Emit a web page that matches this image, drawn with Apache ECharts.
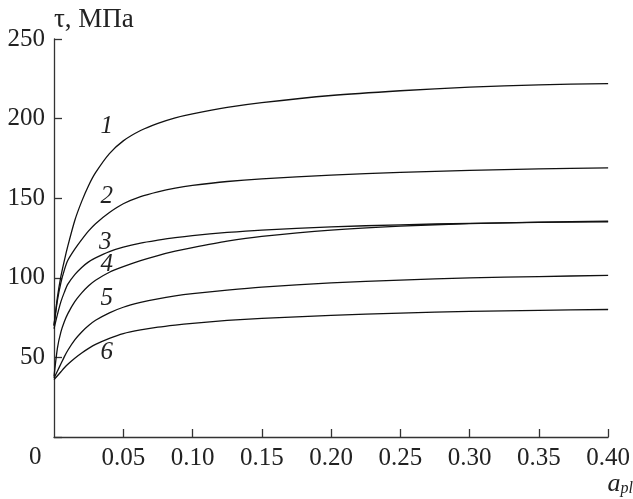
<!DOCTYPE html>
<html>
	<head>
		<meta charset="utf-8">
		<title>tau vs a_pl</title>
		<script src="https://cdn.jsdelivr.net/npm/echarts@6/dist/echarts.min.js"></script>
	</head>
	<body style="margin: 0px;">
		<div id="main" style="width: 633px;height:499px;"></div>
		<script type="text/javascript">
			// x values (a_pl)
			var xs = [0, 0.0025, 0.005, 0.0075, 0.01, 0.015, 0.02, 0.025, 0.03, 0.04, 0.05, 0.0625, 0.075, 0.0875, 0.10, 0.125, 0.15, 0.20, 0.25, 0.30, 0.35, 0.40];
			// tau, MPa for curves 1..6
			var curve1 = [70, 88, 101, 111, 120, 136, 148, 158, 166, 178, 186, 192.5, 197, 200.5, 203, 207, 210, 214.5, 217.5, 219.8, 221.2, 222];
			var curve2 = [70, 86, 97, 105, 111, 118, 124, 129.5, 134, 141, 146.5, 151, 154, 156.3, 158, 160.5, 162.2, 164.5, 166.2, 167.5, 168.4, 169];
			var curve3 = [68, 77, 85, 91, 96, 102, 106.5, 110, 112.5, 116.5, 119.3, 121.8, 123.6, 125.2, 126.5, 128.5, 130, 132, 133.3, 134.2, 134.8, 135.2];
			var curve4 = [38, 56, 66, 72.5, 77.5, 85, 90.5, 95, 98.5, 103.5, 107, 110.8, 114, 116.7, 119, 123, 126, 130, 132.5, 134, 135, 135.6];
			var curve5 = [37, 41.5, 46, 50.5, 54.5, 61, 66, 70, 73.3, 78, 81.5, 84.5, 86.8, 88.6, 90, 92.3, 94.2, 96.8, 98.6, 99.9, 100.8, 101.5];
			var curve6 = [36, 38.5, 41, 43.5, 45.7, 49.5, 52.8, 55.7, 58.2, 62, 65, 67.3, 69, 70.3, 71.4, 73.2, 74.5, 76.4, 77.8, 78.9, 79.6, 80.1];
			var curveNames = ['1', '2', '3', '4', '5', '6'];
			// where the curve numbers sit, in data units
			var labelPos = [[0.038, 195], [0.038, 151], [0.037, 122.5], [0.038, 108.7], [0.038, 87], [0.038, 53]];

			var font = '"Liberation Serif", "Times New Roman", serif';
			var ink = '#222';
			var allCurves = [curve1, curve2, curve3, curve4, curve5, curve6];

			var series = allCurves.map(function(c, i) {
				return {
					name: curveNames[i],
					type: 'line',
					smooth: 0.25,
					showSymbol: false,
					silent: true,
					lineStyle: { color: '#111', width: 1.3 },
					data: xs.map(function(x, j) { return [x, c[j]]; }),
					markPoint: {
						symbol: 'circle',
						symbolSize: 0,
						label: {
							show: true,
							position: 'inside',
							formatter: curveNames[i],
							fontFamily: font,
							fontStyle: 'italic',
							fontSize: 25,
							color: ink
						},
						data: [{ coord: labelPos[i] }]
					}
				};
			});

			var myChart = echarts.init(document.getElementById('main'));
			myChart.setOption({
				animation: false,
				backgroundColor: '#fff',
				grid: { left: 54, right: 21, top: 39, bottom: 62 },
				xAxis: {
					type: 'value',
					min: 0,
					max: 0.4,
					interval: 0.05,
					splitLine: { show: false },
					axisLine: { lineStyle: { color: '#333', width: 1.3 } },
					axisTick: { inside: true, length: 8, lineStyle: { color: '#333', width: 1.3 } },
					axisLabel: {
						showMinLabel: false,
						margin: 9,
						fontFamily: font,
						fontSize: 25,
						color: ink,
						formatter: function(v) { return v === 0 ? '' : v.toFixed(2); }
					}
				},
				yAxis: {
					type: 'value',
					min: 0,
					max: 250,
					interval: 50,
					name: 'τ, МПа',
					nameLocation: 'end',
					nameGap: 19,
					nameTextStyle: { fontFamily: font, fontSize: 27, color: ink, align: 'left', verticalAlign: 'middle' },
					splitLine: { show: false },
					axisLine: { show: true, lineStyle: { color: '#333', width: 1.3 } },
					axisTick: { show: true, inside: true, length: 8, lineStyle: { color: '#333', width: 1.3 } },
					axisLabel: {
						margin: 9,
						fontFamily: font,
						fontSize: 25,
						color: ink,
						formatter: function(v) { return v === 0 ? '' : v; }
					}
				},
				graphic: [
					{
						type: 'text',
						left: 29,
						top: 445,
						style: { text: '0', fontFamily: font, fontSize: 25, fill: ink }
					},
					{
						type: 'text',
						right: 0,
						top: 471,
						style: {
							text: '{a|a}{s|pl}',
							rich: {
								a: { fontFamily: font, fontStyle: 'italic', fontSize: 26, fill: ink, verticalAlign: 'bottom' },
								s: { fontFamily: font, fontStyle: 'italic', fontSize: 16, fill: ink, padding: [14, 0, 0, 0] }
							}
						}
					}
				],
				series: series
			});
		</script>
	</body>
</html>
